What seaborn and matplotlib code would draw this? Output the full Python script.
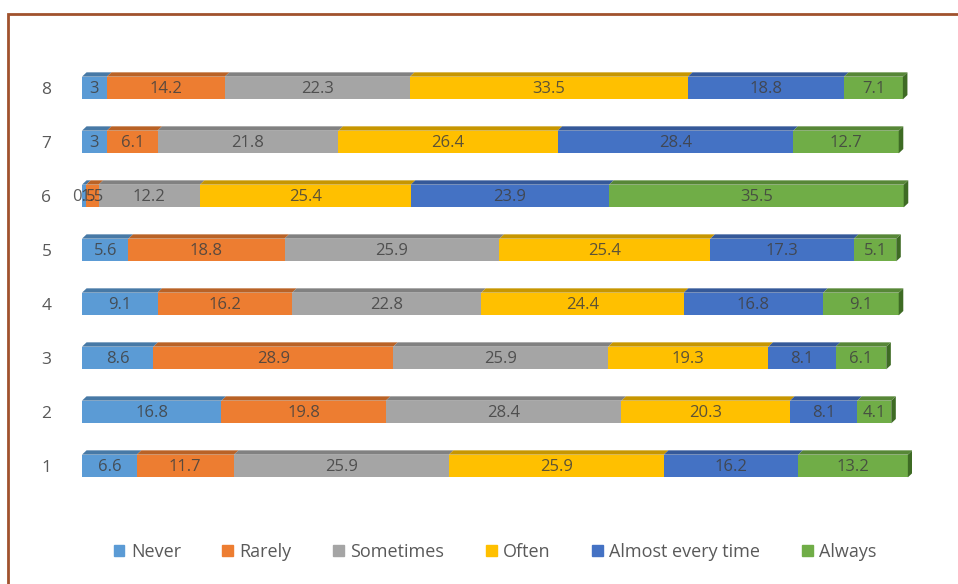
import numpy as np
import pandas as pd
import matplotlib
matplotlib.use("Agg")
import matplotlib.pyplot as plt
from matplotlib.patches import Polygon, Rectangle
from matplotlib.colors import to_rgb
import seaborn as sns

# Survey responses per item (percent)
items = ["1", "2", "3", "4", "5", "6", "7", "8"]
categories = ["Never", "Rarely", "Sometimes", "Often", "Almost every time", "Always"]
never = [6.6, 16.8, 8.6, 9.1, 5.6, 0.5, 3, 3]
rarely = [11.7, 19.8, 28.9, 16.2, 18.8, 1.5, 6.1, 14.2]
sometimes = [25.9, 28.4, 25.9, 22.8, 25.9, 12.2, 21.8, 22.3]
often = [25.9, 20.3, 19.3, 24.4, 25.4, 25.4, 26.4, 33.5]
almost = [16.2, 8.1, 8.1, 16.8, 17.3, 23.9, 28.4, 18.8]
always = [13.2, 4.1, 6.1, 9.1, 5.1, 35.5, 12.7, 7.1]
palette = ["#5B9BD5", "#ED7D31", "#A5A5A5", "#FFC000", "#4472C4", "#70AD47"]

df = pd.DataFrame({"item": items, "Never": never, "Rarely": rarely,
                   "Sometimes": sometimes, "Often": often,
                   "Almost every time": almost, "Always": always})

sns.set_theme(style="white")
plt.rcParams["font.family"] = ["Open Sans", "DejaVu Sans"]

fig = plt.figure(figsize=(9.58, 5.84), dpi=100)
fig.patch.set_facecolor("white")
ax = fig.add_axes([82 / 958, 1 - 493 / 584, 830 / 958, 432 / 584])
ax.set_facecolor("none")

ypos = np.arange(1, len(items) + 1)
h = 0.42
dx, dy = 0.55, 0.08


def darker(c, f=0.78):
    r, g, b = to_rgb(c)
    return (r * f, g * f, b * f)


left = np.zeros(len(items))
for cat, col in zip(categories, palette):
    vals = df[cat].to_numpy()
    ax.barh(ypos, vals, left=left, height=h, color=col, edgecolor="none", zorder=2)
    for y, l, v in zip(ypos, left, vals):
        top = y + h / 2
        ax.add_patch(Polygon([(l, top), (l + dx, top + dy), (l + v + dx, top + dy), (l + v, top)],
                             closed=True, facecolor=darker(col), edgecolor="none", zorder=2))
        ax.text(l + v / 2, y - 0.01, f"{v:g}", ha="center", va="center",
                fontsize=12, color="#404040", alpha=0.85, zorder=4)
    left = left + vals

# right-hand side faces of each stacked bar
for y, total in zip(ypos, left):
    bot, top = y - h / 2, y + h / 2
    ax.add_patch(Polygon([(total, bot), (total + dx, bot + dy), (total + dx, top + dy), (total, top)],
                         closed=True, facecolor="#3E6B24", edgecolor="none", zorder=3))

ax.set_xlim(0, 100)
ax.set_ylim(0.5, 8.5)
ax.set_yticks(ypos)
ax.set_yticklabels(items, fontsize=12.5, color="#595959")
ax.tick_params(axis="y", length=0, pad=22)
ax.set_xticks([])
sns.despine(ax=ax, left=True, bottom=True, top=True, right=True)

handles = [Rectangle((0, 0), 1, 1, color=c) for c in palette]
fig.legend(handles, categories, loc="center", bbox_to_anchor=(495 / 958, 1 - 552 / 584),
           ncol=6, frameon=False, fontsize=13, handlelength=0.6, handleheight=0.6,
           handletextpad=0.35, columnspacing=2.3, labelcolor="#595959")

fig.add_artist(Rectangle((8 / 958, -0.05), 1.2, 1 - 14 / 584 + 0.05, transform=fig.transFigure,
                         fill=False, edgecolor="#A0522D", linewidth=2.0))

fig.savefig("out.png", dpi=100)
